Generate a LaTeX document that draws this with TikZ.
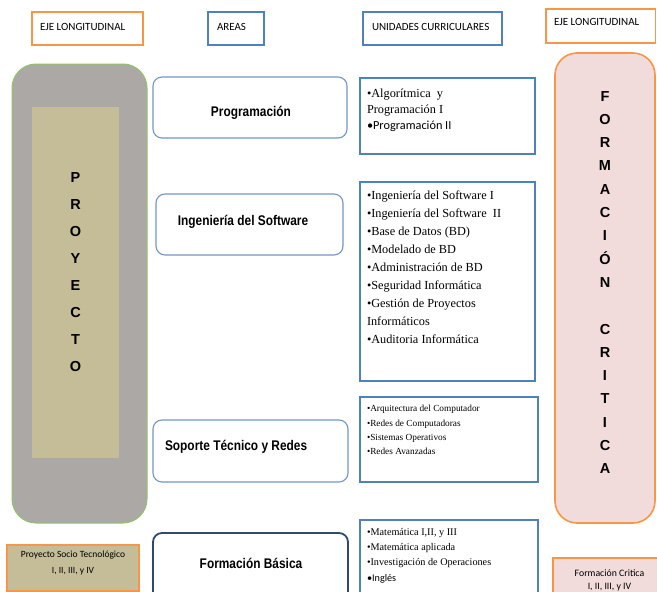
\documentclass[tikz,border=0pt]{standalone}
\usepackage{fontspec}
\setmainfont{Liberation Serif}
\newfontfamily\calfont{Carlito}
\newfontfamily\narrowfont[FakeStretch=0.85]{Liberation Sans}
\newfontfamily\arialfont{Liberation Sans}
\definecolor{orangeC}{HTML}{F79646}
\definecolor{blueC}{HTML}{4F81BD}
\definecolor{areaC}{HTML}{7396C4}
\definecolor{darkC}{HTML}{2E4A6E}
\definecolor{grayP}{HTML}{ABA8A6}
\definecolor{greenC}{HTML}{92C36A}
\definecolor{khakiC}{HTML}{C4BD97}
\definecolor{pinkC}{HTML}{F2DCDB}
\begin{document}
\begin{tikzpicture}[x=1pt,y=-1pt,
  every node/.style={inner sep=0pt, outer sep=0pt},
  orangebox/.style={draw=orangeC, line width=1.6pt, fill=white, anchor=north west},
  bluebox/.style={draw=blueC, line width=1.6pt, fill=white, anchor=north west},
  areabox/.style={draw=areaC, line width=1.1pt, rounded corners=9pt, fill=white, anchor=north west},
  hdrtext/.style={font=\calfont\fontsize{11}{13}\selectfont, anchor=west},
  areatext/.style={font=\narrowfont\bfseries\fontsize{14}{16}\selectfont},
  bigletters/.style={font=\arialfont\bfseries\fontsize{14.5}{#1}\selectfont, align=center},
  unittext/.style 2 args={anchor=north west, align=left, font=\fontsize{#1}{#2}\selectfont}
]
\path[use as bounding box] (0,0) rectangle (657,592);
\clip (0,0) rectangle (657,592);
\fill[white] (0,0) rectangle (657,592);

% headers
\node[orangebox, minimum width=111pt, minimum height=33pt] (hL) at (32,12) {};
\node[hdrtext] (hLt) at (40,27) {EJE LONGITUDINAL};
\node[bluebox, minimum width=56pt, minimum height=33pt] (hA) at (208,12) {};
\node[hdrtext] (hAt) at (217,27) {AREAS};
\node[bluebox, minimum width=139pt, minimum height=33pt] (hU) at (363,12) {};
\node[hdrtext] (hUt) at (372,27) {UNIDADES CURRICULARES};
\node[orangebox, minimum width=109.5pt, minimum height=34pt] (hR) at (546,9) {};
\node[hdrtext] (hRt) at (554,22) {EJE LONGITUDINAL};

% PROYECTO pillar
\node[draw=greenC, line width=1pt, fill=grayP, rounded corners=24pt, anchor=north west,
      minimum width=135pt, minimum height=459pt] (proy) at (12,64) {};
\node[fill=khakiC, anchor=north west, minimum width=87pt, minimum height=351pt] (proyin) at (32,107) {};
\node[bigletters=26.9pt] (proyt) at (75.5,272) {P\\R\\O\\Y\\E\\C\\T\\O};

% FORMACION CRITICA pillar
\node[draw=orangeC, line width=1.6pt, fill=pinkC, rounded corners=22pt, anchor=north west,
      minimum width=100pt, minimum height=470pt] (form) at (555,53) {};
\node[bigletters=23.3pt] (formt) at (605,282.5) {F\\O\\R\\M\\A\\C\\I\\Ó\\N\\\mbox{}\\C\\R\\I\\T\\I\\C\\A};

% area boxes
\node[areabox, minimum width=194pt, minimum height=61pt] (aP) at (153,77) {};
\node[areatext] (aPt) at (251,113) {Programación};
\node[areabox, minimum width=187pt, minimum height=61pt] (aI) at (156,194) {};
\node[areatext] (aIt) at (243,222) {Ingeniería del Software};
\node[areabox, minimum width=195pt, minimum height=62pt] (aS) at (153,420) {};
\node[areatext, anchor=west] (aSt) at (165,447) {Soporte Técnico y Redes};
\node[areabox, draw=darkC, line width=1.8pt, minimum width=195pt, minimum height=80pt] (aF) at (153,533) {};
\node[areatext] (aFt) at (251,563) {Formación Básica};

% unit boxes
\node[bluebox, minimum width=175pt, minimum height=76pt] (u1) at (360,78) {};
\node[unittext={12.3}{16}] (u1t) at (367,88.5)
  {•Algorítmica\ \ y\\Programación I\\{\calfont •Programación II}};
\node[bluebox, minimum width=175pt, minimum height=199pt] (u2) at (360,182) {};
\node[unittext={12.3}{18}] (u2t) at (367,191)
  {•Ingeniería del Software I\\•Ingeniería del Software\ \ II\\•Base de Datos (BD)\\•Modelado de BD\\•Administración de BD\\•Seguridad Informática\\•Gestión de Proyectos\\Informáticos\\•Auditoria Informática};
\node[bluebox, minimum width=178pt, minimum height=85pt] (u3) at (360,397) {};
\node[unittext={9.3}{14.3}] (u3t) at (367,405.5)
  {•Arquitectura del Computador\\•Redes de Computadoras\\•Sistemas Operativos\\•Redes Avanzadas};
\node[bluebox, minimum width=178pt, minimum height=80pt] (u4) at (360,520) {};
\node[unittext={10.2}{15.2}] (u4t) at (367,528.5)
  {•Matemática I,II, y III\\•Matemática aplicada\\•Investigación de Operaciones\\{\calfont •Inglés}};

% bottom boxes
\node[draw=orangeC, line width=1.6pt, fill=khakiC, anchor=north west,
      minimum width=132pt, minimum height=46pt] (pst) at (7,545) {};
\node[font=\calfont\fontsize{9.5}{16}\selectfont, align=center] (pstt) at (73,563)
  {Proyecto Socio Tecnológico\\I, II, III, y IV};
\node[draw=orangeC, line width=1.6pt, fill=pinkC, anchor=north west,
      minimum width=110pt, minimum height=50pt] (fc) at (553,558) {};
\node[font=\calfont\fontsize{9.8}{13}\selectfont, align=center] (fct) at (609.5,580)
  {Formación Critica\\I, II, III, y IV};
\end{tikzpicture}
\end{document}
